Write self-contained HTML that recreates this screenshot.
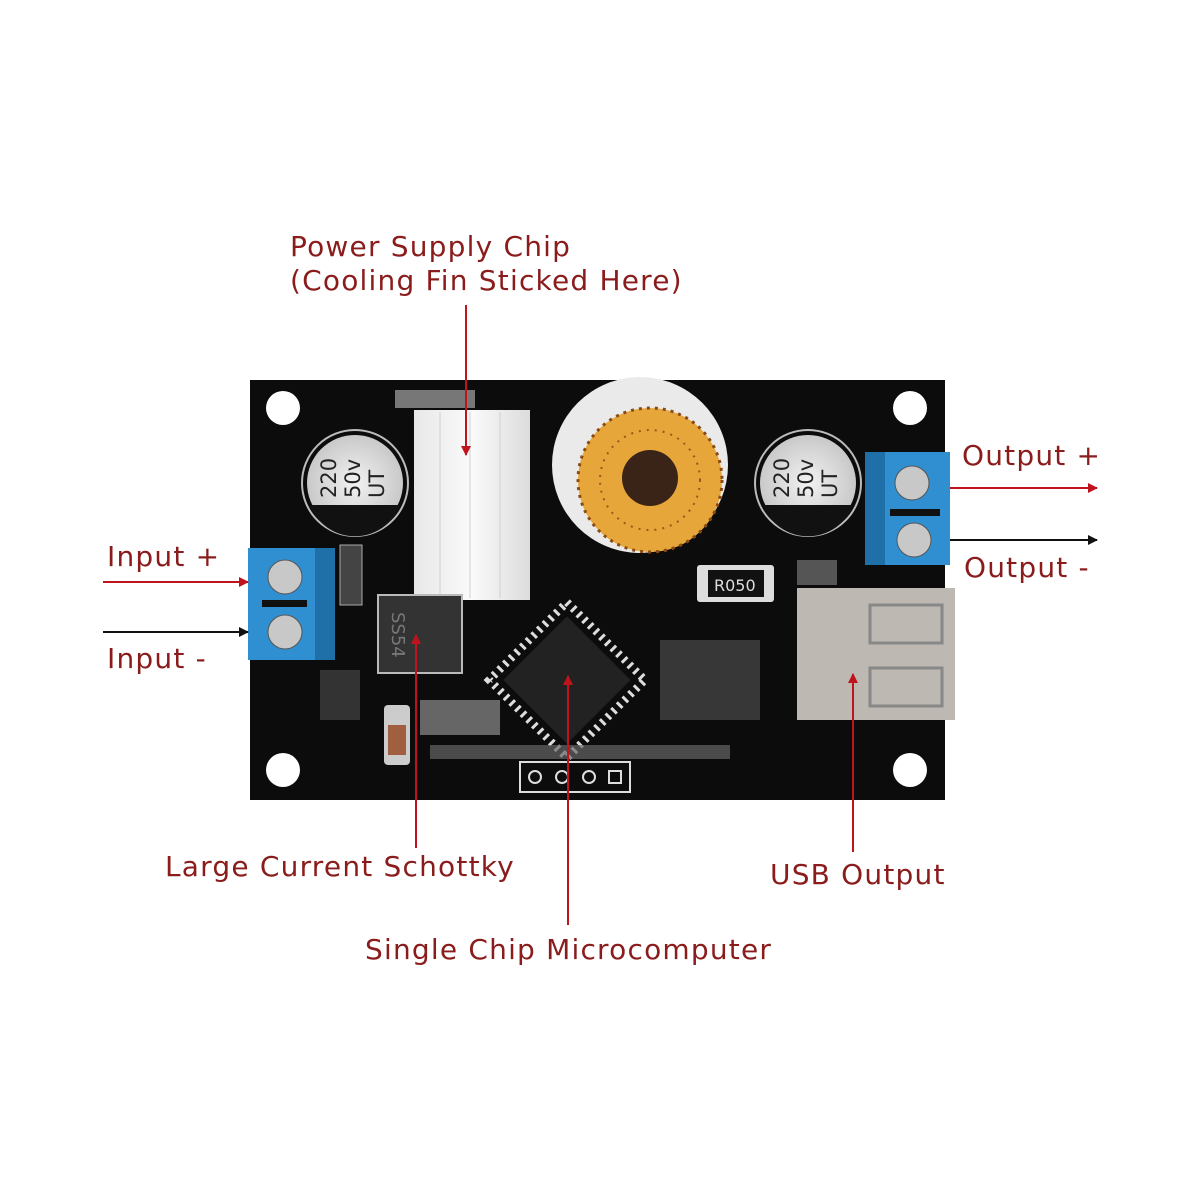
<!DOCTYPE html>
<html><head><meta charset="utf-8"><style>
html,body{margin:0;padding:0;background:#fff;}
svg{display:block;}
text{font-family:"DejaVu Sans","Liberation Sans",sans-serif;fill:#8a1c1c;font-size:28px;letter-spacing:1.2px;}
.c{fill:#222;font-size:21px;letter-spacing:0;}
</style></head><body>
<svg width="1200" height="1200" viewBox="0 0 1200 1200" xmlns="http://www.w3.org/2000/svg">
<defs>
<marker id="ar" markerWidth="10" markerHeight="10" refX="9" refY="5" orient="auto" markerUnits="userSpaceOnUse"><path d="M0,0 L10,5 L0,10z" fill="#c0141c"/></marker>
<marker id="ab" markerWidth="10" markerHeight="10" refX="9" refY="5" orient="auto" markerUnits="userSpaceOnUse"><path d="M0,0 L10,5 L0,10z" fill="#111"/></marker>
<linearGradient id="hs" x1="0" x2="1"><stop offset="0" stop-color="#e8e8e8"/><stop offset="0.5" stop-color="#fafafa"/><stop offset="1" stop-color="#dcdcdc"/></linearGradient>
<radialGradient id="cap"><stop offset="0" stop-color="#f2f2f2"/><stop offset="1" stop-color="#c9c9c9"/></radialGradient>
</defs>
<rect x="250" y="380" width="695" height="420" fill="#0c0c0c"/>
<circle cx="283" cy="408" r="17" fill="#fff"/>
<circle cx="910" cy="408" r="17" fill="#fff"/>
<circle cx="283" cy="770" r="17" fill="#fff"/>
<circle cx="910" cy="770" r="17" fill="#fff"/>
<circle cx="355" cy="483" r="53" fill="none" stroke="#bbb" stroke-width="2"/>
<circle cx="355" cy="483" r="48" fill="url(#cap)"/>
<path d="M310,505 A48,48 0 0 0 400,505 Z" fill="#111"/>
<text class="c" transform="translate(336,498) rotate(-90)">220</text>
<text class="c" transform="translate(360,498) rotate(-90)">50v</text>
<text class="c" transform="translate(384,498) rotate(-90)">UT</text>
<circle cx="808" cy="483" r="53" fill="none" stroke="#bbb" stroke-width="2"/>
<circle cx="808" cy="483" r="48" fill="url(#cap)"/>
<path d="M763,505 A48,48 0 0 0 853,505 Z" fill="#111"/>
<text class="c" transform="translate(789,498) rotate(-90)">220</text>
<text class="c" transform="translate(813,498) rotate(-90)">50v</text>
<text class="c" transform="translate(837,498) rotate(-90)">UT</text>
<rect x="414" y="410" width="116" height="190" fill="url(#hs)"/>
<line x1="440" y1="412" x2="440" y2="598" stroke="#d0d0d0"/><line x1="470" y1="412" x2="470" y2="598" stroke="#d0d0d0"/><line x1="500" y1="412" x2="500" y2="598" stroke="#d0d0d0"/>
<rect x="395" y="390" width="80" height="18" fill="#777"/>
<circle cx="640" cy="465" r="88" fill="#eaeaea"/>
<circle cx="650" cy="480" r="72" fill="#e7a63a"/>
<circle cx="650" cy="480" r="72" fill="none" stroke="#8a4a14" stroke-width="3" stroke-dasharray="3 5"/>
<circle cx="650" cy="480" r="50" fill="none" stroke="#9a5818" stroke-width="2" stroke-dasharray="2 6"/>
<circle cx="650" cy="478" r="28" fill="#3a2418"/>
<rect x="248" y="548" width="87" height="112" fill="#2f8fd0"/>
<rect x="315" y="548" width="20" height="112" fill="#1f6fa8"/>
<circle cx="285" cy="577" r="17" fill="#c8c8c8" stroke="#555"/>
<circle cx="285" cy="632" r="17" fill="#c8c8c8" stroke="#555"/>
<rect x="262" y="600" width="45" height="7" fill="#111"/>
<rect x="865" y="452" width="85" height="113" fill="#2f8fd0"/>
<rect x="865" y="452" width="20" height="113" fill="#1f6fa8"/>
<circle cx="912" cy="483" r="17" fill="#c8c8c8" stroke="#555"/>
<circle cx="914" cy="540" r="17" fill="#c8c8c8" stroke="#555"/>
<rect x="890" y="509" width="50" height="7" fill="#111"/>
<rect x="797" y="588" width="158" height="132" fill="#bdb8b2"/>
<rect x="870" y="605" width="72" height="38" fill="none" stroke="#888" stroke-width="3"/>
<rect x="870" y="668" width="72" height="38" fill="none" stroke="#888" stroke-width="3"/>
<rect x="797" y="560" width="40" height="25" fill="#555"/>
<rect x="697" y="565" width="77" height="37" rx="3" fill="#ddd"/>
<rect x="708" y="570" width="56" height="27" fill="#111"/>
<text x="714" y="591" style="fill:#ddd;font-size:16px;letter-spacing:0">R050</text>
<rect x="378" y="595" width="84" height="78" fill="#333" stroke="#bbb" stroke-width="2"/>
<text transform="translate(392,612) rotate(90)" style="fill:#777;font-size:18px;letter-spacing:0">SS54</text>
<g transform="translate(567,680) rotate(45)">
<rect x="-45" y="-45" width="90" height="90" fill="#222"/>
<rect x="-55" y="-55" width="110" height="110" fill="none" stroke="#ddd" stroke-width="8" stroke-dasharray="3 5"/>
</g>
<rect x="520" y="762" width="110" height="30" fill="none" stroke="#ddd" stroke-width="2"/>
<circle cx="535" cy="777" r="6" fill="none" stroke="#ddd" stroke-width="2"/><circle cx="562" cy="777" r="6" fill="none" stroke="#ddd" stroke-width="2"/><circle cx="589" cy="777" r="6" fill="none" stroke="#ddd" stroke-width="2"/><rect x="609" y="771" width="12" height="12" fill="none" stroke="#ddd" stroke-width="2"/>
<rect x="430" y="745" width="300" height="14" fill="#666" opacity="0.7"/>
<rect x="384" y="705" width="26" height="60" rx="4" fill="#ccc"/><rect x="388" y="725" width="18" height="30" fill="#a06040"/>
<rect x="340" y="545" width="22" height="60" fill="#444" stroke="#aaa"/>
<rect x="320" y="670" width="40" height="50" fill="#333"/>
<rect x="420" y="700" width="80" height="35" fill="#666"/>
<rect x="660" y="640" width="100" height="80" fill="#555" opacity="0.6"/>
<text x="290" y="256">Power Supply Chip</text>
<text x="290" y="290">(Cooling Fin Sticked Here)</text>
<line x1="466" y1="305" x2="466" y2="455" stroke="#c0141c" stroke-width="2" marker-end="url(#ar)"/>
<text x="962" y="465">Output +</text>
<line x1="950" y1="488" x2="1097" y2="488" stroke="#c0141c" stroke-width="2" marker-end="url(#ar)"/>
<text x="964" y="577">Output -</text>
<line x1="950" y1="540" x2="1097" y2="540" stroke="#111" stroke-width="2" marker-end="url(#ab)"/>
<text x="107" y="566">Input +</text>
<line x1="103" y1="582" x2="248" y2="582" stroke="#c0141c" stroke-width="2" marker-end="url(#ar)"/>
<text x="107" y="668">Input -</text>
<line x1="103" y1="632" x2="248" y2="632" stroke="#111" stroke-width="2" marker-end="url(#ab)"/>
<text x="165" y="876">Large Current Schottky</text>
<line x1="416" y1="848" x2="416" y2="635" stroke="#c0141c" stroke-width="2" marker-end="url(#ar)"/>
<text x="365" y="959">Single Chip Microcomputer</text>
<line x1="568" y1="925" x2="568" y2="676" stroke="#c0141c" stroke-width="2" marker-end="url(#ar)"/>
<text x="770" y="884">USB Output</text>
<line x1="853" y1="852" x2="853" y2="674" stroke="#c0141c" stroke-width="2" marker-end="url(#ar)"/>
</svg>
</body></html>
